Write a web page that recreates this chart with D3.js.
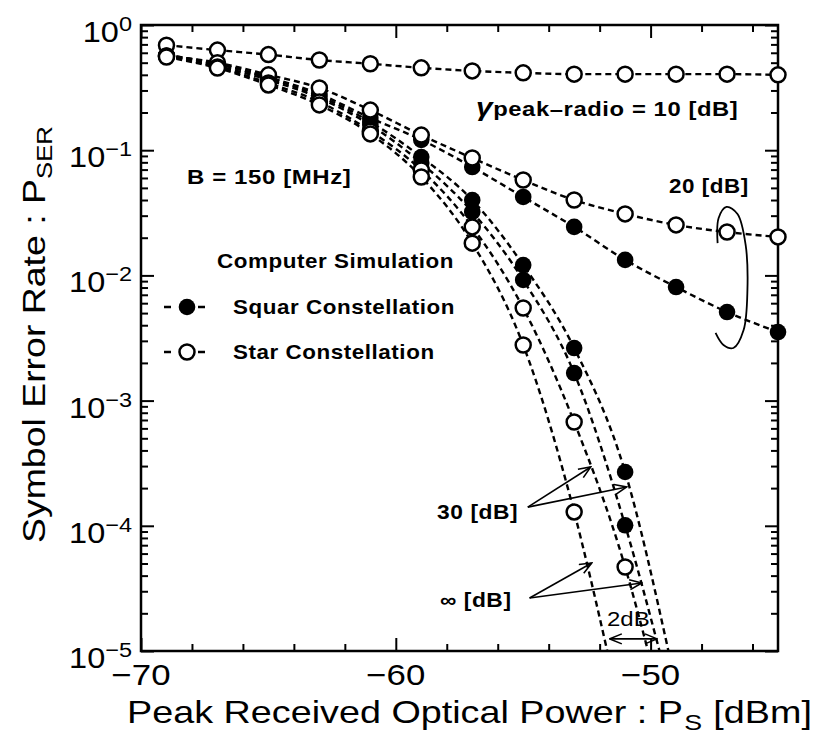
<!DOCTYPE html>
<html>
<head>
<meta charset="utf-8">
<script src="https://cdn.jsdelivr.net/npm/d3@7"></script>
<style>
body { margin: 0; background: #fff; }
svg { display: block; font-family: "Liberation Sans", Arial, Helvetica, sans-serif; }
.note { font-weight: bold; font-size: 20px; letter-spacing: 0.5px; }
</style>
</head>
<body>
<svg id="chart" width="820" height="733"></svg>
<script>
// received power (dBm) of the simulation points
var power = [-69, -67, -65, -63, -61, -59, -57, -55, -53, -51, -49, -47, -45];

// symbol error rate (star = open, square = filled)
var star10 = [0.69, 0.63, 0.58, 0.525, 0.49, 0.455, 0.43, 0.415, 0.405, 0.405, 0.405, 0.405, 0.40];
var star20 = [0.565, 0.50, 0.40, 0.314, 0.209, 0.132, 0.0866, 0.0578, 0.040, 0.031, 0.0253, 0.0222, 0.0203];
var sq20 = [0.576, 0.488, 0.384, 0.281, 0.181, 0.121, 0.0734, 0.0423, 0.0244, 0.0133, 0.00807, 0.0051, 0.00353];
var star30 = [0.566, 0.462, 0.344, 0.243, 0.142, 0.0695, 0.0244, 0.00549, 0.000675, 0.0000469];
var sq30 = [0.576, 0.488, 0.377, 0.271, 0.168, 0.0882, 0.040, 0.0121, 0.00263, 0.000269];
var starInf = [0.555, 0.453, 0.332, 0.230, 0.135, 0.0611, 0.0181, 0.00278, 0.000129];
var sqInf = [0.566, 0.471, 0.364, 0.261, 0.159, 0.079, 0.0321, 0.00919, 0.00166, 0.000101];

// power where the dashed analysis curves of the steep cases hit 1e-5
var tailCurves = [star30, sq30, starInf, sqInf];
var tailPower = [-50.1, -49.3, -51.7, -49.65];

// axis ticks
var yMajor = [1, 1e-1, 1e-2, 1e-3, 1e-4, 1e-5];
var yExp = ['0', '\u22121', '\u22122', '\u22123', '\u22124', '\u22125'];
var xMajor = [-70, -60, -50];
var xLabels = ['\u221270', '\u221260', '\u221250'];

// annotation shapes, in data units
var loop20 = [[-47.37, 0.0181], [-47.33, 0.0287], [-47.02, 0.0352], [-46.59, 0.0309], [-46.27, 0.0175],
              [-46.20, 0.00764], [-46.35, 0.00366], [-46.75, 0.00263], [-47.14, 0.00278], [-47.45, 0.00347]];
var arrows30 = [[[-54.82, 1.41e-4], [-52.35, 2.95e-4]], [[-54.82, 1.41e-4], [-50.94, 2.04e-4]]];
var arrowsInf = [[[-54.75, 2.65e-5], [-52.31, 5.05e-5]], [[-54.75, 2.65e-5], [-50.35, 3.49e-5]]];
var gap2dB = [[-51.6, 1.25e-5], [-49.75, 1.25e-5]];

var svg = d3.select('#chart');
var pLeft = 141, pRight = 778, pTop = 25, pBottom = 651;

var x = d3.scaleLinear().domain([-70, -45]).range([pLeft, pRight]);
var y = d3.scaleLog().domain([1e-5, 1]).range([pBottom, pTop]);

// minor ticks
var yMinor = [];
for (var k = -5; k < 0; k += 1) {
    for (var m = 2; m <= 9; m += 1) yMinor.push(m * Math.pow(10, k));
}
var xMinor = d3.range(-70, -45, 2).filter(function(d) { return xMajor.indexOf(d) < 0; });

function tickAxis(axis, g) {
    g.call(axis);
    g.select('.domain').remove();
    g.selectAll('line').attr('stroke', '#000').attr('stroke-width', 2);
    g.selectAll('text').remove();
}

var axes = svg.append('g');
tickAxis(d3.axisLeft(y).tickValues(yMajor).tickSize(-13), axes.append('g').attr('transform', 'translate(' + pLeft + ',0)'));
tickAxis(d3.axisLeft(y).tickValues(yMinor).tickSize(-7), axes.append('g').attr('transform', 'translate(' + pLeft + ',0)'));
tickAxis(d3.axisRight(y).tickValues(yMajor).tickSize(-13), axes.append('g').attr('transform', 'translate(' + pRight + ',0)'));
tickAxis(d3.axisRight(y).tickValues(yMinor).tickSize(-7), axes.append('g').attr('transform', 'translate(' + pRight + ',0)'));
tickAxis(d3.axisBottom(x).tickValues(xMajor).tickSize(-13), axes.append('g').attr('transform', 'translate(0,' + pBottom + ')'));
tickAxis(d3.axisBottom(x).tickValues(xMinor).tickSize(-7), axes.append('g').attr('transform', 'translate(0,' + pBottom + ')'));
tickAxis(d3.axisTop(x).tickValues(xMajor).tickSize(-13), axes.append('g').attr('transform', 'translate(0,' + pTop + ')'));
tickAxis(d3.axisTop(x).tickValues(xMinor).tickSize(-7), axes.append('g').attr('transform', 'translate(0,' + pTop + ')'));

svg.append('rect')
    .attr('x', pLeft).attr('y', pTop)
    .attr('width', pRight - pLeft).attr('height', pBottom - pTop)
    .attr('fill', 'none').attr('stroke', '#000').attr('stroke-width', 2.5);

// the printed lettering is wider than Arial, so stretch it sideways
function wide(sel, px, py, sx) {
    return sel.attr('transform', 'translate(' + px + ',' + py + ') scale(' + sx + ',1)');
}

// tick labels
var yl = svg.append('g').selectAll('text').data(yMajor).join('text')
    .attr('transform', function(d) { return 'translate(132,' + (y(d) + 17) + ') scale(1.12,1)'; })
    .attr('text-anchor', 'end')
    .attr('font-size', 29);
yl.append('tspan').text('10');
yl.append('tspan').attr('dy', -11).attr('font-size', 21).text(function(d, i) { return yExp[i]; });

svg.append('g').selectAll('text').data(xMajor).join('text')
    .attr('transform', function(d) { return 'translate(' + x(d) + ',' + (pBottom + 34) + ') scale(1.2,1)'; })
    .attr('text-anchor', 'middle')
    .attr('font-size', 29)
    .text(function(d, i) { return xLabels[i]; });

// x title in three pieces (main, subscript, unit), one common stretch
var xa = svg.append('text').attr('font-size', 31).text('Peak Received Optical Power : P');
var xb = svg.append('text').attr('font-size', 22).text('S');
var xc = svg.append('text').attr('font-size', 31).text('[dBm]');
var wa = xa.node().getComputedTextLength();
var wb = xb.node().getComputedTextLength();
var wc = xc.node().getComputedTextLength();
var gap = 10;
var sxT = (812 - 127) / (wa + wb + gap + wc);
wide(xa, 127, 723, sxT);
wide(xb, 127 + wa * sxT + 1, 730, sxT);
wide(xc, 127 + (wa + wb + gap) * sxT, 723, sxT);

var yt = svg.append('text').attr('transform', 'translate(45,543) rotate(-90) scale(1.17,1)').attr('font-size', 32);
yt.append('tspan').text('Symbol Error Rate : P');
yt.append('tspan').attr('dy', 7).attr('font-size', 22).text('SER');

// dashed curves
var line = d3.line()
    .x(function(d) { return x(d[0]); })
    .y(function(d) { return y(d[1]); })
    .curve(d3.curveMonotoneX);

function pts(vals) {
    return vals.map(function(v, i) { return [power[i], v]; });
}

var curves = [star10, star20, sq20, star30, sq30, starInf, sqInf];
var curveG = svg.append('g');
curves.forEach(function(vals) {
    var p = pts(vals);
    var t = tailCurves.indexOf(vals);
    if (t >= 0) p.push([tailPower[t], 1e-5]);
    curveG.append('path')
        .attr('d', line(p))
        .attr('fill', 'none')
        .attr('stroke', '#000')
        .attr('stroke-width', 2.4)
        .attr('stroke-dasharray', '6,4');
});

// markers: filled (square constellation) under open (star constellation)
var filled = [sq20, sq30, sqInf];
var open = [star10, star20, star30, starInf];
var markG = svg.append('g');
filled.forEach(function(vals) {
    markG.selectAll(null).data(pts(vals)).join('circle')
        .attr('cx', function(d) { return x(d[0]); })
        .attr('cy', function(d) { return y(d[1]); })
        .attr('r', 8.3)
        .attr('fill', '#000');
});
open.forEach(function(vals) {
    markG.selectAll(null).data(pts(vals)).join('circle')
        .attr('cx', function(d) { return x(d[0]); })
        .attr('cy', function(d) { return y(d[1]); })
        .attr('r', 7.5)
        .attr('fill', '#fff')
        .attr('stroke', '#000')
        .attr('stroke-width', 2.5);
});

// annotations
var defs = svg.append('defs');
defs.append('marker')
    .attr('id', 'arrow')
    .attr('viewBox', '0 0 14 12')
    .attr('refX', 13).attr('refY', 6)
    .attr('markerWidth', 14).attr('markerHeight', 12)
    .attr('markerUnits', 'userSpaceOnUse')
    .attr('orient', 'auto-start-reverse')
    .append('path')
    .attr('d', 'M1,1 L13,6 L1,11')
    .attr('fill', 'none')
    .attr('stroke', '#000')
    .attr('stroke-width', 1.6);

var plain = d3.line().x(function(d) { return x(d[0]); }).y(function(d) { return y(d[1]); });
arrows30.concat(arrowsInf).forEach(function(a) {
    svg.append('path').attr('d', plain(a))
        .attr('stroke', '#000').attr('stroke-width', 1.6).attr('fill', 'none')
        .attr('marker-end', 'url(#arrow)');
});
svg.append('path').attr('d', plain(gap2dB))
    .attr('stroke', '#000').attr('stroke-width', 1.6).attr('fill', 'none')
    .attr('marker-start', 'url(#arrow)').attr('marker-end', 'url(#arrow)');

var smooth = d3.line().x(function(d) { return x(d[0]); }).y(function(d) { return y(d[1]); })
    .curve(d3.curveCatmullRom);
svg.append('path')
    .attr('d', smooth(loop20))
    .attr('fill', 'none').attr('stroke', '#000').attr('stroke-width', 1.8);

var g10 = wide(svg.append('text').attr('class', 'note'), 476, 116, 1.19);
g10.append('tspan').attr('font-style', 'italic').attr('font-size', 25).text('\u03b3');
g10.append('tspan').text('peak\u2013radio = 10 [dB]');

wide(svg.append('text').attr('class', 'note'), 187, 184, 1.2).text('B = 150 [MHz]');
wide(svg.append('text').attr('class', 'note'), 217, 268, 1.12).text('Computer Simulation');
wide(svg.append('text').attr('class', 'note'), 233, 314, 1.12).text('Squar Constellation');
wide(svg.append('text').attr('class', 'note'), 233, 359, 1.12).text('Star Constellation');
wide(svg.append('text').attr('class', 'note'), 669, 193, 1.12).text('20 [dB]');
wide(svg.append('text').attr('class', 'note'), 437, 519, 1.14).text('30 [dB]');
wide(svg.append('text').attr('class', 'note'), 440, 607, 1.14).text('\u221e [dB]');
wide(svg.append('text'), 607, 626, 1.2).attr('font-size', 20).text('2dB');

// legend symbols
var leg = svg.append('g');
[[307, true], [352, false]].forEach(function(r) {
    leg.append('line').attr('x1', 164).attr('x2', 213).attr('y1', r[0]).attr('y2', r[0])
        .attr('stroke', '#000').attr('stroke-width', 2.3).attr('stroke-dasharray', '7,10');
    leg.append('circle').attr('cx', 187).attr('cy', r[0]).attr('r', r[1] ? 8.3 : 7.5)
        .attr('fill', r[1] ? '#000' : '#fff')
        .attr('stroke', '#000').attr('stroke-width', r[1] ? 0 : 2.5);
});
</script>
</body>
</html>
